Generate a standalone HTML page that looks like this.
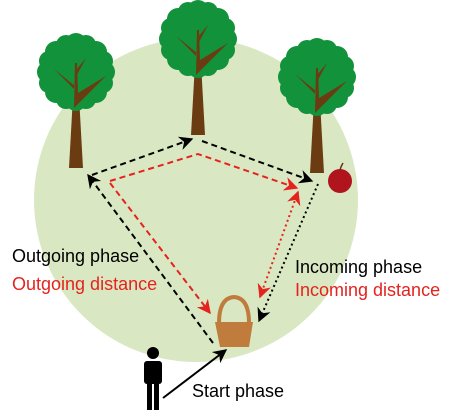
<!DOCTYPE html>
<html><head><style>
body{margin:0;background:#fff;width:452px;height:418px;overflow:hidden}
svg{display:block}
text{font-family:"Liberation Sans",sans-serif;font-size:18px}
</style></head><body>
<svg width="452" height="418" viewBox="0 0 452 418">
<defs>
<marker id="ab" viewBox="0 0 10 10" refX="9" refY="5" markerWidth="7" markerHeight="7" orient="auto-start-reverse"><path d="M0,0 L10,5 L0,10 L3,5Z" fill="#000"/></marker>
<marker id="ar" viewBox="0 0 10 10" refX="9" refY="5" markerWidth="7" markerHeight="7" orient="auto-start-reverse"><path d="M0,0 L10,5 L0,10 L3,5Z" fill="#e5231e"/></marker>
<g id="tree">
<path d="M-7,0 L-2,-90 L2,-90 L7,0Z" fill="#6b3c12"/>
<g fill="#12923a">
<circle cx="0" cy="-96" r="31"/>
<circle cx="-28" cy="-96" r="11"/><circle cx="28" cy="-96" r="11"/>
<circle cx="0" cy="-124" r="11"/><circle cx="0" cy="-68" r="11"/>
<circle cx="-20" cy="-116" r="11"/><circle cx="20" cy="-116" r="11"/>
<circle cx="-20" cy="-76" r="11"/><circle cx="20" cy="-76" r="11"/>
<circle cx="-10" cy="-123" r="10"/><circle cx="10" cy="-123" r="10"/>
<circle cx="-27" cy="-85" r="10"/><circle cx="27" cy="-85" r="10"/>
<circle cx="-27" cy="-107" r="10"/><circle cx="27" cy="-107" r="10"/>
<circle cx="-10" cy="-69" r="10"/><circle cx="10" cy="-69" r="10"/>
</g>
<path d="M-2,-60 L-1,-105 L1,-105 L2,-75 L30,-92 L2,-64Z M-1,-82 L-22,-99 L-1,-78Z M0,-98 L10,-110 L1,-93Z" fill="#6b3c12"/>
</g>
</defs>
<circle cx="196" cy="200" r="162" fill="#d9e8c2"/>
<use href="#tree" x="76" y="168"/>
<use href="#tree" x="198" y="135"/>
<use href="#tree" x="317" y="173"/>
<circle cx="340" cy="181" r="12" fill="#b0141c"/>
<path d="M340,170 Q341,166 343,163" stroke="#5a3410" stroke-width="1.5" fill="none"/>
<g stroke="#000" stroke-width="2" fill="none">
<line x1="92" y1="175" x2="192" y2="139" stroke-dasharray="6,4" marker-end="url(#ab)"/>
<line x1="202" y1="141" x2="312" y2="181" stroke-dasharray="6,4" marker-end="url(#ab)"/>
<line x1="213" y1="343" x2="88" y2="175" stroke-dasharray="6,4" marker-end="url(#ab)"/>
<line x1="318" y1="184" x2="259" y2="321" stroke-dasharray="2,3" marker-end="url(#ab)"/>
<line x1="163" y1="398" x2="226" y2="350" marker-end="url(#ab)"/>
</g>
<g stroke="#e5231e" stroke-width="2" fill="none">
<polyline points="110,181 198,154 297,188" stroke-dasharray="6,4" marker-end="url(#ar)"/>
<line x1="110" y1="183" x2="210" y2="313" stroke-dasharray="6,4" marker-end="url(#ar)"/>
<line x1="260" y1="297" x2="298" y2="192" stroke-dasharray="2,3" marker-end="url(#ar)" marker-start="url(#ar)"/>
</g>
<path d="M219,323 Q219,298 234,297 Q249,298 249,323" stroke="#c07c3c" stroke-width="4" fill="none"/>
<path d="M215,322 L253,322 L249,347 L220,347Z" fill="#c07c3c"/>
<g fill="#000">
<circle cx="153" cy="353" r="6"/>
<rect x="144" y="361" width="18" height="23" rx="3"/>
<rect x="147" y="380" width="5" height="30"/>
<rect x="154" y="380" width="5" height="30"/>
</g>
<text x="12" y="262" fill="#000">Outgoing phase</text>
<text x="12" y="290" fill="#e5231e">Outgoing distance</text>
<text x="295" y="273" fill="#000">Incoming phase</text>
<text x="295" y="296" fill="#e5231e">Incoming distance</text>
<text x="192" y="397" fill="#000">Start phase</text>
</svg>
</body></html>
